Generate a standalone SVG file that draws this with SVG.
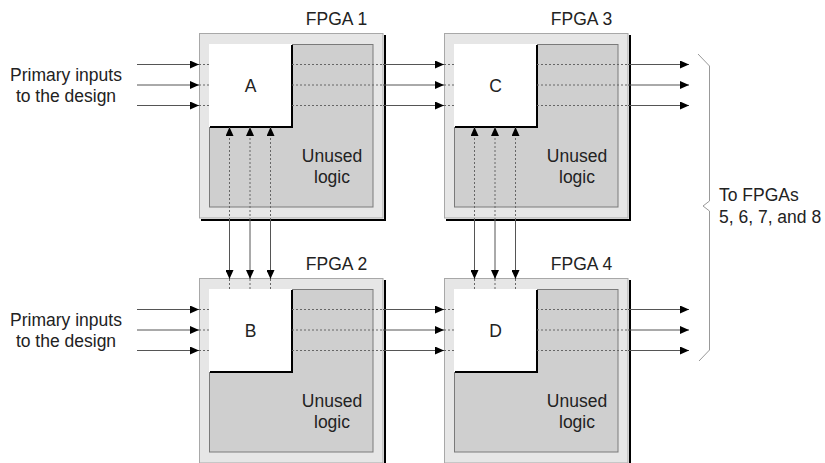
<svg xmlns="http://www.w3.org/2000/svg" width="825" height="463" viewBox="0 0 825 463">
<style>
text{font-family:"Liberation Sans",Arial,sans-serif;font-size:17.5px;fill:#222}
.c{text-anchor:middle}
.outer{fill:#e6e6e6;stroke:#a8a8a8;stroke-width:1}
.inner{fill:#cfcfcf;stroke:#7a7a7a;stroke-width:1}
.blk{fill:#fff;stroke:none}
.sh{fill:none;stroke:#000;stroke-width:2}
.ln{fill:none;stroke:#555;stroke-width:1}
.ds{fill:none;stroke:#666;stroke-width:1;stroke-dasharray:2 2}
.br{fill:none;stroke:#999;stroke-width:1}
</style>
<defs>
<marker id="ah" viewBox="0 0 9 8" refX="9" refY="4" markerWidth="9" markerHeight="8" markerUnits="userSpaceOnUse" orient="auto">
<path d="M0,0 L9,4 L0,8 z" fill="#000"/>
</marker>
<g id="fpga">
<rect class="outer" x="199.5" y="33.5" width="183.5" height="184.5"/>
<path class="sh" d="M385,35 V220 H201"/>
<rect class="inner" x="209.5" y="44.5" width="163.5" height="162.5"/>
<rect class="blk" x="209" y="44" width="83" height="83"/>
<path class="sh" d="M292,45 V127 H210"/>
</g>
</defs>

<g id="fpga1">
<use href="#fpga"/>
<text class="c" x="336.5" y="25">FPGA 1</text>
<text class="c" x="250.5" y="91.5">A</text>
<text class="c" x="332" y="162">Unused</text>
<text class="c" x="332" y="183">logic</text>
</g>
<g id="fpga3">
<use href="#fpga" x="245"/>
<text class="c" x="581.5" y="25">FPGA 3</text>
<text class="c" x="495.5" y="91.5">C</text>
<text class="c" x="577" y="162">Unused</text>
<text class="c" x="577" y="183">logic</text>
</g>
<g id="fpga2">
<use href="#fpga" y="245"/>
<text class="c" x="336.5" y="270">FPGA 2</text>
<text class="c" x="250.5" y="336.5">B</text>
<text class="c" x="332" y="407">Unused</text>
<text class="c" x="332" y="428">logic</text>
</g>
<g id="fpga4">
<use href="#fpga" x="245" y="245"/>
<text class="c" x="581.5" y="270">FPGA 4</text>
<text class="c" x="495.5" y="336.5">D</text>
<text class="c" x="577" y="407">Unused</text>
<text class="c" x="577" y="428">logic</text>
</g>

<g id="connectors">
<!-- primary inputs top -->
<path class="ln" d="M137,64.5 H199" marker-end="url(#ah)"/>
<path class="ln" d="M137,85 H199" marker-end="url(#ah)"/>
<path class="ln" d="M137,105.5 H199" marker-end="url(#ah)"/>
<path class="ds" d="M199,64.5 H209 M199,85 H209 M199,105.5 H209"/>
<!-- A to C -->
<path class="ds" d="M292,64.5 H383 M292,85 H383 M292,105.5 H383"/>
<path class="ln" d="M383,64.5 H444" marker-end="url(#ah)"/>
<path class="ln" d="M383,85 H444" marker-end="url(#ah)"/>
<path class="ln" d="M383,105.5 H444" marker-end="url(#ah)"/>
<path class="ds" d="M444,64.5 H454 M444,85 H454 M444,105.5 H454"/>
<!-- C outputs -->
<path class="ds" d="M537,64.5 H628 M537,85 H628 M537,105.5 H628"/>
<path class="ln" d="M628,64.5 H689" marker-end="url(#ah)"/>
<path class="ln" d="M628,85 H689" marker-end="url(#ah)"/>
<path class="ln" d="M628,105.5 H689" marker-end="url(#ah)"/>
<!-- primary inputs bottom -->
<path class="ln" d="M137,309.5 H199" marker-end="url(#ah)"/>
<path class="ln" d="M137,330 H199" marker-end="url(#ah)"/>
<path class="ln" d="M137,350.5 H199" marker-end="url(#ah)"/>
<path class="ds" d="M199,309.5 H209 M199,330 H209 M199,350.5 H209"/>
<!-- B to D -->
<path class="ds" d="M292,309.5 H383 M292,330 H383 M292,350.5 H383"/>
<path class="ln" d="M383,309.5 H444" marker-end="url(#ah)"/>
<path class="ln" d="M383,330 H444" marker-end="url(#ah)"/>
<path class="ln" d="M383,350.5 H444" marker-end="url(#ah)"/>
<path class="ds" d="M444,309.5 H454 M444,330 H454 M444,350.5 H454"/>
<!-- D outputs -->
<path class="ds" d="M537,309.5 H628 M537,330 H628 M537,350.5 H628"/>
<path class="ln" d="M628,309.5 H689" marker-end="url(#ah)"/>
<path class="ln" d="M628,330 H689" marker-end="url(#ah)"/>
<path class="ln" d="M628,350.5 H689" marker-end="url(#ah)"/>
<!-- A <-> B vertical -->
<path class="ln" d="M229.5,220 V279" marker-end="url(#ah)"/>
<path class="ln" d="M250,220 V279" marker-end="url(#ah)"/>
<path class="ln" d="M270.5,220 V279" marker-end="url(#ah)"/>
<path class="ds" d="M229.5,220 V127" marker-end="url(#ah)"/>
<path class="ds" d="M250,220 V127" marker-end="url(#ah)"/>
<path class="ds" d="M270.5,220 V127" marker-end="url(#ah)"/>
<path class="ds" d="M229.5,279 V289 M250,279 V289 M270.5,279 V289"/>
<!-- C <-> D vertical -->
<path class="ln" d="M474.5,220 V279" marker-end="url(#ah)"/>
<path class="ln" d="M495,220 V279" marker-end="url(#ah)"/>
<path class="ln" d="M515.5,220 V279" marker-end="url(#ah)"/>
<path class="ds" d="M474.5,220 V127" marker-end="url(#ah)"/>
<path class="ds" d="M495,220 V127" marker-end="url(#ah)"/>
<path class="ds" d="M515.5,220 V127" marker-end="url(#ah)"/>
<path class="ds" d="M474.5,279 V289 M495,279 V289 M515.5,279 V289"/>
</g>

<g id="labels">
<text class="c" x="66" y="81">Primary inputs</text>
<text class="c" x="66" y="101.5">to the design</text>
<text class="c" x="66" y="326">Primary inputs</text>
<text class="c" x="66" y="346.5">to the design</text>
<path class="br" d="M698,54 L709.5,66 V201 L703,206 L709.5,211 V350 L699,361"/>
<text x="719" y="201">To FPGAs</text>
<text x="719" y="223">5, 6, 7, and 8</text>
</g>
</svg>
